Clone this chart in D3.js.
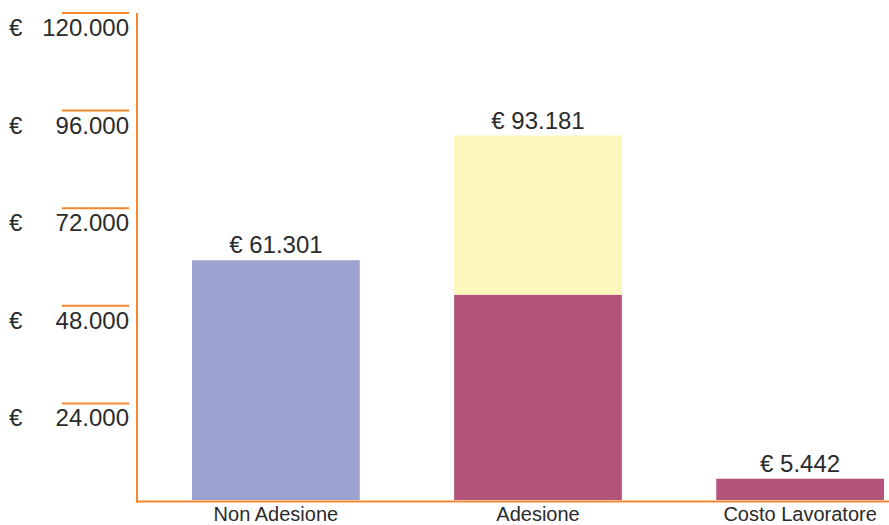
<!DOCTYPE html>
<html>
<head>
<meta charset="utf-8">
<script src="https://cdn.jsdelivr.net/npm/d3@7/dist/d3.min.js"></script>
<style>
  html, body { margin: 0; padding: 0; background: #fff; }
  svg { display: block; }
  text { font-family: "Helvetica Neue", "Liberation Sans", Arial, sans-serif; fill: #2b2b2b; }
</style>
</head>
<body>
<svg id="chart" width="889" height="525"></svg>
<script>
// ---- data ----
const categories = ["Non Adesione", "Adesione", "Costo Lavoratore"];
const baseValues = [61301, 52500, 5442];
const topValues  = [0, 40681, 0];
const totals     = [61301, 93181, 5442];
const yTickValues = [24000, 48000, 72000, 96000, 120000];

// ---- styles ----
const baseColors = ["#9da3d1", "#b4547b", "#b4547b"];
const topColor = "#fdf7bb";
const orange = "#f5862c";

const svg = d3.select("#chart");
const locale = d3.formatLocale({ decimal: ",", thousands: ".", grouping: [3], currency: ["€ ", ""] });
const fmt = locale.format(",.0f");

const x = d3.scaleBand().domain(categories).range([192, 884]).paddingInner(0.36).paddingOuter(0);
const y = d3.scaleLinear().domain([0, 124500]).range([500, 13]);
const yTick = d3.scaleLinear().domain([0, 120000]).range([501, 13]);

const data = categories.map((c, i) => ({ c, base: baseValues[i], top: topValues[i], total: totals[i], color: baseColors[i] }));

// bars - base
svg.append("g").selectAll("rect").data(data).join("rect")
  .attr("x", d => x(d.c))
  .attr("width", x.bandwidth())
  .attr("y", d => y(d.base))
  .attr("height", d => y(0) - y(d.base))
  .attr("fill", d => d.color);

// bars - top segment
svg.append("g").selectAll("rect").data(data.filter(d => d.top > 0)).join("rect")
  .attr("x", d => x(d.c))
  .attr("width", x.bandwidth())
  .attr("y", d => y(d.base + d.top))
  .attr("height", d => y(d.base) - y(d.base + d.top))
  .attr("fill", topColor);

// axes lines
svg.append("line").attr("x1", 137).attr("x2", 137).attr("y1", yTick(120000)).attr("y2", 502.5)
  .attr("stroke", orange).attr("stroke-width", 2);
svg.append("line").attr("x1", 136).attr("x2", 889).attr("y1", 501.5).attr("y2", 501.5)
  .attr("stroke", orange).attr("stroke-width", 2);

// y ticks
const tg = svg.append("g").selectAll("g").data(yTickValues).join("g");
tg.append("line").attr("x1", 62).attr("x2", 129)
  .attr("y1", d => yTick(d)).attr("y2", d => yTick(d))
  .attr("stroke", orange).attr("stroke-width", 2);
tg.append("text").attr("x", 9).attr("y", d => yTick(d) + 23)
  .attr("font-size", 24).text("€");
tg.append("text").attr("x", 129).attr("y", d => yTick(d) + 23)
  .attr("text-anchor", "end").attr("font-size", 24).text(d => fmt(d));

// value labels
const vl = svg.append("g").selectAll("text").data(data).join("text")
  .attr("x", d => x(d.c) + x.bandwidth() / 2)
  .attr("y", d => y(d.total) - 7)
  .attr("text-anchor", "middle")
  .attr("font-size", 24);
vl.append("tspan").text("€");
vl.append("tspan").text(d => " " + fmt(d.total));

// category labels
svg.append("g").selectAll("text").data(data).join("text")
  .attr("x", d => x(d.c) + x.bandwidth() / 2)
  .attr("y", 521)
  .attr("text-anchor", "middle")
  .attr("font-size", 20)
  .text(d => d.c);
</script>
</body>
</html>
